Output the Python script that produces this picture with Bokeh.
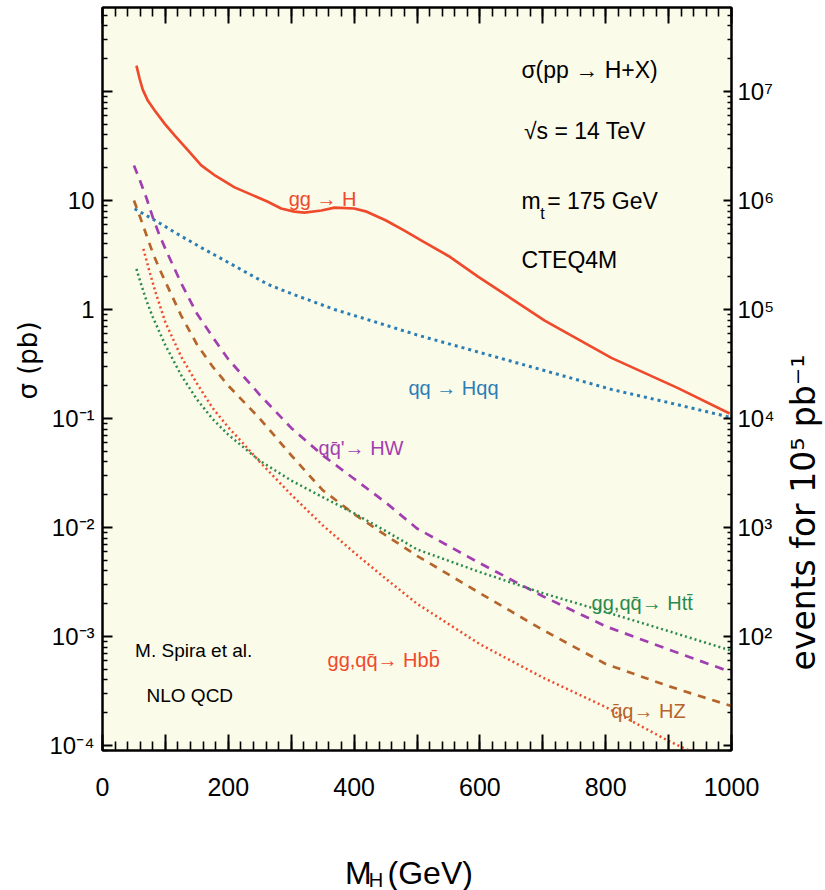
import math
from bokeh.plotting import figure
from bokeh.layouts import row, column
from bokeh.models import Range1d, LogAxis, LinearAxis, FixedTicker, Label, LogScale
from bokeh.core.properties import value
from bokeh.embed import file_html
from bokeh.resources import INLINE

# ---------------- data (sigma in pb, M_H in GeV) ----------------
mass_ggH = [54, 59, 64, 72, 83, 99, 115, 136, 157, 180, 210, 262, 284, 305, 321, 348, 369, 400,
            420, 450, 480, 510, 550, 597, 650, 703, 809, 915, 997]
sig_ggH = [173, 131, 104, 82.6, 67, 50.5, 39.4, 28.8, 21, 16.8, 13.2, 9.8, 8.45, 7.9, 7.75, 8.1, 8.6, 8.45,
           7.9, 6.6, 5.3, 4.2, 3.1, 2.0, 1.26, 0.79, 0.36, 0.19, 0.111]

mass_Hqq = [51, 83, 120, 157, 200, 263, 300, 369, 430, 502, 650, 809, 900, 997]
sig_Hqq = [8.4, 6.6, 4.9, 3.7, 2.7, 1.7, 1.4, 1.0, 0.78, 0.58, 0.335, 0.185, 0.14, 0.103]

mass_HW = [50, 60, 70, 80, 90, 100, 125, 150, 175, 200, 250, 300, 350, 400, 450, 500,
           600, 700, 800, 900, 1000]
sig_HW = [21, 15, 10.5, 7.0, 4.9, 3.6, 1.75, 0.92, 0.56, 0.35, 0.165, 0.082, 0.046, 0.028, 0.017, 0.0098,
          0.0047, 0.00234, 0.00124, 0.00076, 0.00047]

mass_HZ = [50, 60, 70, 80, 90, 100, 125, 150, 175, 200, 250, 300, 350, 400, 450, 500,
           600, 700, 800, 900, 1000]
sig_HZ = [10, 7.0, 4.8, 3.3, 2.4, 1.8, 0.88, 0.48, 0.30, 0.20, 0.10, 0.046, 0.022, 0.0133, 0.0085, 0.0055,
          0.0025, 0.00115, 0.00056, 0.00035, 0.00023]

mass_Htt = [54, 60, 70, 80, 100, 125, 150, 175, 200, 250, 300, 350, 400, 450, 500,
            600, 700, 800, 900, 1000]
sig_Htt = [2.36, 1.8, 1.2, 0.85, 0.47, 0.25, 0.15, 0.099, 0.071, 0.041, 0.027, 0.019, 0.0135, 0.0093, 0.0063,
           0.0039, 0.0025, 0.00168, 0.00112, 0.00074]

mass_Hbb = [65, 75, 85, 100, 125, 150, 175, 200, 225, 250, 300, 350, 400, 450, 500,
            600, 700, 800, 900, 1000]
sig_Hbb = [3.6, 2.2, 1.4, 0.76, 0.37, 0.21, 0.125, 0.083, 0.058, 0.040, 0.020, 0.0105, 0.0059, 0.0034, 0.0020,
           0.00085, 0.00042, 0.000225, 0.00011, 0.000059]

x_major = [0, 100, 200, 300, 400, 500, 600, 700, 800, 900, 1000]
x_labels = {0: "0", 200: "200", 400: "400", 600: "600", 800: "800", 1000: "1000"}
x_minor = list(range(0, 1001, 20))

y_major = [0.0001, 0.001, 0.01, 0.1, 1, 10, 100]
y_labels = {0.0001: "10\u207b\u2074", 0.001: "10\u207b\u00b3", 0.01: "10\u207b\u00b2",
            0.1: "10\u207b\u00b9", 1: "1", 10: "10", 100: ""}
ev_major = [10, 100, 1000, 10000, 100000, 1000000, 10000000]
ev_labels = {10: "", 100: "10\u00b2", 1000: "10\u00b3", 10000: "10\u2074",
             100000: "10\u2075", 1000000: "10\u2076", 10000000: "10\u2077"}
LUMI = 1e5  # pb^-1

Y_MIN, Y_MAX = 10 ** -4.046, 10 ** 2.771

# ---------------- styling ----------------
FONT = "Liberation Sans"
BG = "#FBFBEA"
RED = "#EF4A2C"
BLUE = "#2B7DB6"
PURPLE = "#A23FB0"
BROWN = "#B5652B"
GREEN = "#2A8A4C"

LT_W, RT_W, XT_H = 44, 44, 75
P_LEFT, P_RIGHT = 102 - LT_W, 94 - RT_W

p = figure(frame_width=629, frame_height=743,
           x_range=Range1d(0, 1000), y_range=Range1d(Y_MIN, Y_MAX),
           y_axis_type="log", output_backend="svg", toolbar_location=None,
           min_border_left=P_LEFT, min_border_right=P_RIGHT, min_border_top=7,
           min_border_bottom=140 - XT_H,
           background_fill_color=BG, border_fill_color="white",
           outline_line_color="black", outline_line_width=2)
p.grid.visible = False
p.extra_y_ranges = {"ev": Range1d(Y_MIN * LUMI, Y_MAX * LUMI)}
p.extra_y_scales = {"ev": LogScale()}

# curves
p.line(mass_ggH, sig_ggH, line_color=RED, line_width=2.7)
p.line(mass_Hqq, sig_Hqq, line_color=BLUE, line_width=3, line_dash="3 4")
p.line(mass_HW, sig_HW, line_color=PURPLE, line_width=2.7, line_dash="9 7")
p.line(mass_HZ, sig_HZ, line_color=BROWN, line_width=2.7, line_dash="8 7")
p.line(mass_Htt, sig_Htt, line_color=GREEN, line_width=2.5, line_dash="2 3")
p.line(mass_Hbb, sig_Hbb, line_color=RED, line_width=2.5, line_dash="2 3")

# ---------------- axes ----------------
def style_axis(ax, tin, mtin):
    ax.axis_line_width = 2
    ax.axis_line_color = "black"
    ax.major_tick_in = tin
    ax.major_tick_out = 0
    ax.minor_tick_in = mtin
    ax.minor_tick_out = 0
    ax.major_tick_line_width = 2
    ax.minor_tick_line_width = 1.6
    ax.major_label_text_font = FONT
    ax.major_label_text_color = "black"

xa = p.xaxis[0]
xa.ticker = FixedTicker(ticks=x_major, minor_ticks=x_minor)
xa.major_label_overrides = {v: x_labels.get(v, "") for v in x_major}
style_axis(xa, 16, 9)
xa.major_label_text_font_size = "25px"
xa.major_label_standoff = 27

top = LinearAxis(ticker=FixedTicker(ticks=x_major, minor_ticks=x_minor))
style_axis(top, 16, 9)
top.major_label_text_font_size = "0px"
top.major_label_standoff = 0
top.major_label_overrides = {v: "" for v in x_major}
p.add_layout(top, "above")

ya = p.yaxis[0]
ya.ticker = FixedTicker(ticks=y_major,
                        minor_ticks=[k * 10.0 ** n for n in range(-5, 3) for k in range(2, 10)])
ya.major_label_overrides = y_labels
style_axis(ya, 10, 5)
ya.major_label_text_font_size = "24px"
ya.major_label_standoff = 8

ra = LogAxis(y_range_name="ev",
             ticker=FixedTicker(ticks=ev_major,
                                minor_ticks=[k * 10.0 ** n for n in range(0, 8) for k in range(2, 10)]))
ra.major_label_overrides = ev_labels
style_axis(ra, 8, 4)
ra.major_label_text_font_size = "24px"
ra.major_label_standoff = 6
p.add_layout(ra, "right")

# ---------------- texts inside the frame ----------------
def add_text(x, y, text, color="black", size=20, align="left"):
    p.add_layout(Label(x=x, y=y, text=text, text_color=color, text_font_size=f"{size}px",
                       text_font=FONT, text_align=align, text_baseline="alphabetic"))

add_text(350, 10.4, "gg \u2192 H", RED, 20, "center")
add_text(558, 0.192, "qq \u2192 Hqq", BLUE, 20, "center")
add_text(411, 0.0531, "qq\u0304'\u2192 HW", PURPLE, 20, "center")
add_text(858, 0.00201, "gg,qq\u0304\u2192 Htt\u0304", GREEN, 20, "center")
add_text(868, 0.000209, "q\u0304q\u2192 HZ", BROWN, 20, "center")
add_text(447, 0.000603, "gg,qq\u0304\u2192 Hbb\u0304", RED, 20, "center")

add_text(145, 0.000744, "M. Spira et al.", "black", 19, "center")
add_text(143, 0.000288, "NLO  QCD", "black", 19, "center")

add_text(666, 156, "\u03c3(pp \u2192 H+X)", "black", 23)
add_text(670, 43.8, "\u221as = 14 TeV", "black", 23)
add_text(666, 10, "m", "black", 23)
add_text(696, 7.6, "t", "black", 16)
add_text(707, 10, "= 175 GeV", "black", 23)
add_text(666, 2.82, "CTEQ4M", "black", 23)

# ---------------- axis titles (separate strips, pixel coordinates) ----------------
def strip(w, h):
    f = figure(width=w, height=h, x_range=Range1d(0, w), y_range=Range1d(0, h),
               output_backend="svg", toolbar_location=None, min_border=0,
               x_axis_location=None, y_axis_location=None,
               outline_line_color=None, background_fill_color="white", border_fill_color="white")
    f.grid.visible = False
    return f

xt = strip(P_LEFT + 629 + P_RIGHT, XT_H)
xt.text(x=[328 - LT_W, 356 - LT_W, 378 - LT_W], y=[18, 11, 18], text=["M", "H", "(GeV)"],
        text_font=value(FONT), text_font_size=["32px", "20px", "32px"],
        text_align="left", text_baseline="alphabetic", text_color="black")

lt = strip(LT_W, 890)
lt.text(x=[27], y=[890 - 360], text=["\u03c3 (pb)"], angle=math.pi / 2,
        text_font=value("DejaVu Sans"), text_font_size=value("26px"),
        text_align="center", text_baseline="middle", text_color="black")

rt = strip(RT_W, 890)
rt.text(x=[803 - (825 - RT_W)], y=[890 - 512], text=["events for 10\u2075 pb\u207b\u00b9"],
        angle=math.pi / 2, text_font=value("DejaVu Sans"), text_font_size=value("33px"),
        text_align="center", text_baseline="middle", text_color="black")

layout = row(lt, column(p, xt), rt)
open("out.html", "w").write(file_html(layout, INLINE))
